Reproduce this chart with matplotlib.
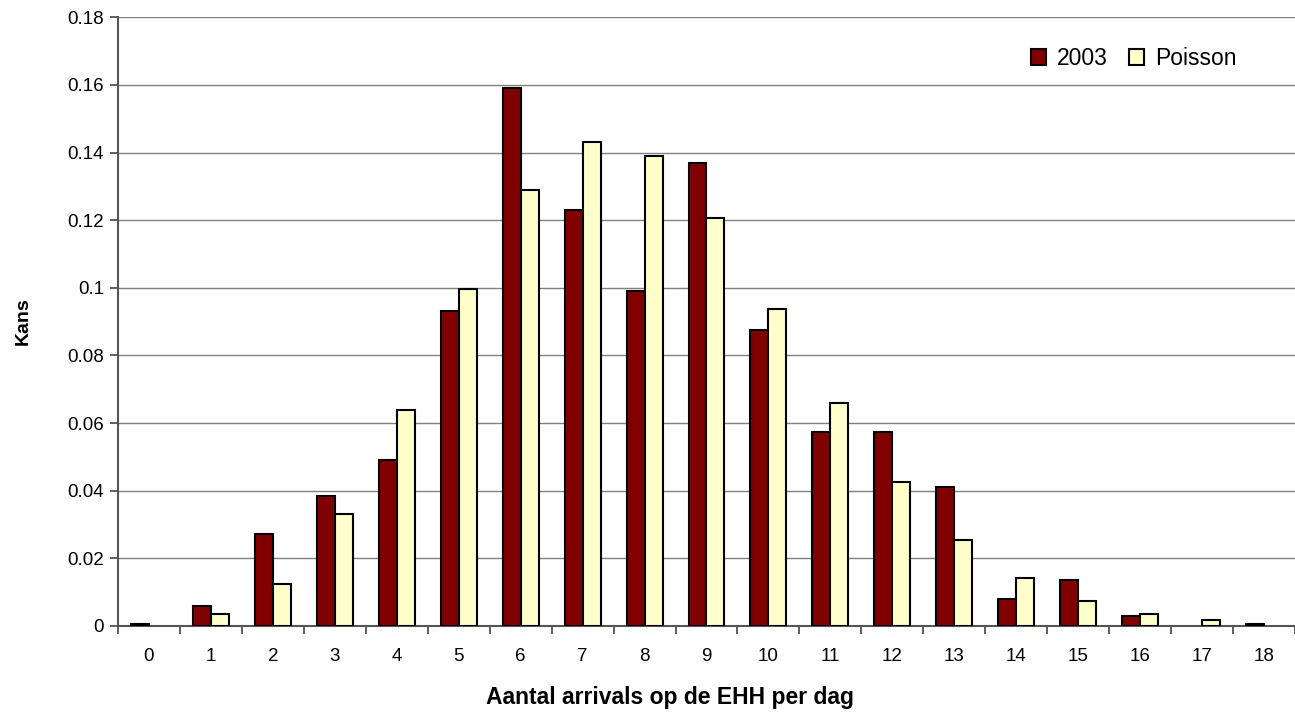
import matplotlib
matplotlib.use("Agg")
import matplotlib.pyplot as plt
import numpy as np

categories = [str(i) for i in range(19)]
vals_2003 = [0.0005, 0.0058, 0.0273, 0.0385, 0.049, 0.093, 0.159, 0.123, 0.099, 0.137,
             0.0875, 0.0573, 0.0573, 0.041, 0.008, 0.0135, 0.003, 0.0, 0.0005]
vals_poisson = [0.0, 0.0035, 0.0125, 0.033, 0.064, 0.0995, 0.129, 0.143, 0.139, 0.1205,
                0.0937, 0.0658, 0.0425, 0.0255, 0.0143, 0.0075, 0.0035, 0.0018, 0.0]
yticks = [0, 0.02, 0.04, 0.06, 0.08, 0.1, 0.12, 0.14, 0.16, 0.18]
ytick_labels = ["0", "0.02", "0.04", "0.06", "0.08", "0.1", "0.12", "0.14", "0.16", "0.18"]

plt.rcParams['font.family'] = ['Liberation Sans', 'DejaVu Sans']

fig = plt.figure(figsize=(12.95, 7.12), dpi=100)
ax = fig.add_axes([0.0911, 0.1208, 0.9089, 0.855])

x = np.arange(len(categories))
w = 0.29
h1 = np.array(vals_2003, dtype=float)
h2 = np.array(vals_poisson, dtype=float)
h1 = np.where(h1 > 0, h1, np.nan)
h2 = np.where(h2 > 0, h2, np.nan)
ax.bar(x - w / 2, h1, w, color='#800000', edgecolor='black', linewidth=1.5, label='2003', zorder=3)
ax.bar(x + w / 2, h2, w, color='#FFFFCC', edgecolor='black', linewidth=1.5, label='Poisson', zorder=3)

ax.set_xlim(-0.5, len(categories) - 0.5)
ax.set_ylim(0, 0.18)
ax.set_yticks(yticks)
ax.set_yticklabels(ytick_labels, fontsize=13.5)
ax.set_xticks(x)
ax.set_xticklabels(categories, fontsize=13.5)
ax.tick_params(axis='x', length=0, pad=16)
ax.set_xticks(np.arange(-0.5, len(categories)), minor=True)
ax.tick_params(axis='x', which='minor', length=6, color='#444444', width=1.2)
ax.tick_params(axis='y', length=6, color='#444444', width=1.2, pad=4)

ax.yaxis.grid(True, color='#808080', linewidth=1)
ax.set_axisbelow(True)
for s in ['top', 'right']:
    ax.spines[s].set_visible(False)
for s in ['left', 'bottom']:
    ax.spines[s].set_color('#555555')
    ax.spines[s].set_linewidth(1.5)

ax.set_ylabel('Kans', fontsize=14, fontweight='bold')
ax.yaxis.set_label_coords(-0.073, 0.5)
ax.set_xlabel('Aantal arrivals op de EHH per dag', fontsize=16.5, fontweight='bold')
ax.xaxis.set_label_coords(0.469, -0.118)
ax.xaxis.label.set_va('center')

leg = ax.legend(loc='upper right', bbox_to_anchor=(0.968, 0.985), ncol=2, frameon=False,
                fontsize=16.5, handlelength=0.65, handleheight=0.65, handletextpad=0.5,
                columnspacing=0.9)

fig.savefig('out.png', dpi=100)
